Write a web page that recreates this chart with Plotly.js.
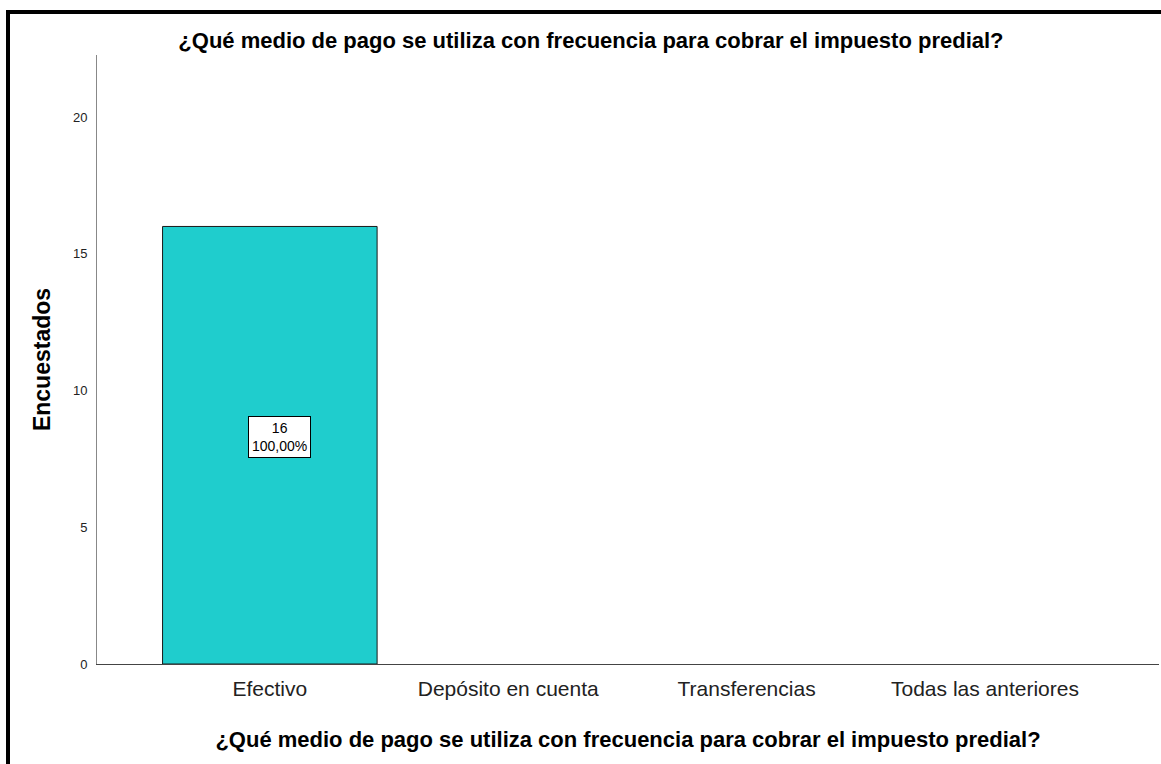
<!DOCTYPE html>
<html>
<head>
<meta charset="utf-8">
<script src="https://cdn.plot.ly/plotly-3.0.1.min.js"></script>
<style>
html,body{margin:0;padding:0;background:#fff;}
#wrap{position:relative;width:1161px;height:764px;overflow:hidden;}
#chart{position:absolute;left:0;top:0;width:1161px;height:764px;}
#frame{position:absolute;left:6px;top:10px;right:-10px;bottom:-10px;border-left:4px solid #000;border-top:4px solid #000;pointer-events:none;}
</style>
</head>
<body>
<div id="wrap"><div id="chart"></div><div id="frame"></div></div>
<script>
const categories = ["Efectivo", "Depósito en cuenta", "Transferencias", "Todas las anteriores"];
const counts = [16, 0, 0, 0];
const percents = ["100,00%", "", "", ""];
const yTicks = [0, 5, 10, 15, 20];
const titleText = "¿Qué medio de pago se utiliza con frecuencia para cobrar el impuesto predial?";

const FONT = "Liberation Sans, Arial, sans-serif";
const trace = {
  type: "bar",
  x: categories,
  y: counts.map(v => v > 0 ? v : null),
  width: 0.9,
  marker: {color: "#1fcdcd", line: {color: "#1a1a1a", width: 1}},
  hoverinfo: "x+y"
};

const annotations = [];
categories.forEach((c, i) => {
  if (counts[i] > 0) {
    annotations.push({
      x: c, y: counts[i] / 2, xref: "x", yref: "y",
      text: counts[i] + "<br>" + percents[i],
      showarrow: false,
      font: {family: FONT, size: 14, color: "#000"},
      bgcolor: "#fff", bordercolor: "#000", borderwidth: 1, borderpad: 3,
      xshift: 10, yshift: 8
    });
  }
});

const layout = {
  width: 1161, height: 764,
  margin: {l: 97, r: 2, t: 55, b: 100, pad: 0},
  paper_bgcolor: "#fff", plot_bgcolor: "#fff",
  showlegend: false,
  title: {text: "<b>" + titleText + "</b>", x: 0.509, xanchor: "center", y: 0.947, yanchor: "middle",
          font: {family: FONT, size: 22, color: "#000"}},
  xaxis: {
    type: "category", range: [-0.725, 3.73],
    showline: true, linecolor: "#444", linewidth: 1,
    showgrid: false, zeroline: false, ticks: "outside", ticklen: 6, tickcolor: "rgba(0,0,0,0)",
    tickfont: {family: FONT, size: 21, color: "#222"},
    title: {text: "<b>" + titleText + "</b>", standoff: 32,
            font: {family: FONT, size: 22, color: "#000"}}
  },
  yaxis: {
    range: [0, 22.27], tickvals: yTicks,
    showline: true, linecolor: "#888", linewidth: 1,
    showgrid: false, zeroline: false, ticks: "outside", ticklen: 6, tickcolor: "rgba(0,0,0,0)",
    tickfont: {family: FONT, size: 13, color: "#222"},
    title: {text: "<b>Encuestados</b>", standoff: 15,
            font: {family: FONT, size: 23, color: "#000"}}
  },
  annotations: annotations,
  bargap: 0.1
};

Plotly.newPlot("chart", [trace], layout, {displayModeBar: false, staticPlot: true});
</script>
</body>
</html>
